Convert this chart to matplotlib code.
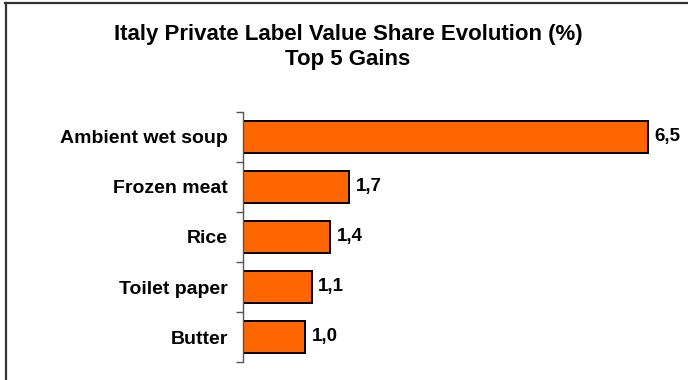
import matplotlib
matplotlib.use("Agg")
import matplotlib.pyplot as plt
from matplotlib.lines import Line2D

categories = ["Ambient wet soup", "Frozen meat", "Rice", "Toilet paper", "Butter"]
values = [6.5, 1.7, 1.4, 1.1, 1.0]
value_labels = ["6,5", "1,7", "1,4", "1,1", "1,0"]
title_lines = ["Italy Private Label Value Share Evolution (%)", "Top 5 Gains"]

W, H = 688, 380
fig = plt.figure(figsize=(W / 100, H / 100), dpi=100)
fig.patch.set_facecolor("white")

# frame lines along the top and left edges
fig.add_artist(Line2D([5 / W, 1], [1 - 2.5 / H, 1 - 2.5 / H], color="#333333", lw=1.6,
                      transform=fig.transFigure))
fig.add_artist(Line2D([6 / W, 6 / W], [0, 1 - 2.5 / H], color="#333333", lw=1.6,
                      transform=fig.transFigure))

font = "Liberation Sans"

fig.text(348 / W, 1 - 40 / H, title_lines[0], ha="center", va="baseline",
         fontsize=16, fontweight="bold", family=font)
fig.text(348 / W, 1 - 65 / H, title_lines[1], ha="center", va="baseline",
         fontsize=16, fontweight="bold", family=font)

ax_left, ax_right = 243, 679
ax_top, ax_bottom = 112, 362
ax = fig.add_axes([ax_left / W, 1 - ax_bottom / H, (ax_right - ax_left) / W,
                   (ax_bottom - ax_top) / H])

pos = list(range(len(categories)))
ax.barh(pos, values, height=0.64, color="#FF6600", edgecolor="black", linewidth=1.4)

for p, v, lab in zip(pos, values, value_labels):
    ax.text(v + 0.11, p, lab, ha="left", va="center", fontsize=13.5,
            fontweight="bold", family=font)

ax.set_xlim(0, 7)
ax.set_ylim(len(categories) - 0.5, -0.5)

# boundary ticks between categories, labels centred on bars
ax.set_yticks([i - 0.5 for i in range(len(categories) + 1)])
ax.set_yticklabels([])
ax.set_yticks(pos, minor=True)
ax.set_yticklabels(categories, minor=True, fontsize=14, fontweight="bold", family=font)
ax.tick_params(axis="y", which="major", length=5, width=1, color="#555555", direction="out")
ax.tick_params(axis="y", which="minor", length=0, pad=11)
ax.set_xticks([])

for s in ["top", "right", "bottom"]:
    ax.spines[s].set_visible(False)
ax.spines["left"].set_color("#555555")
ax.spines["left"].set_linewidth(1)

fig.savefig("out.png", dpi=100, facecolor="white")
